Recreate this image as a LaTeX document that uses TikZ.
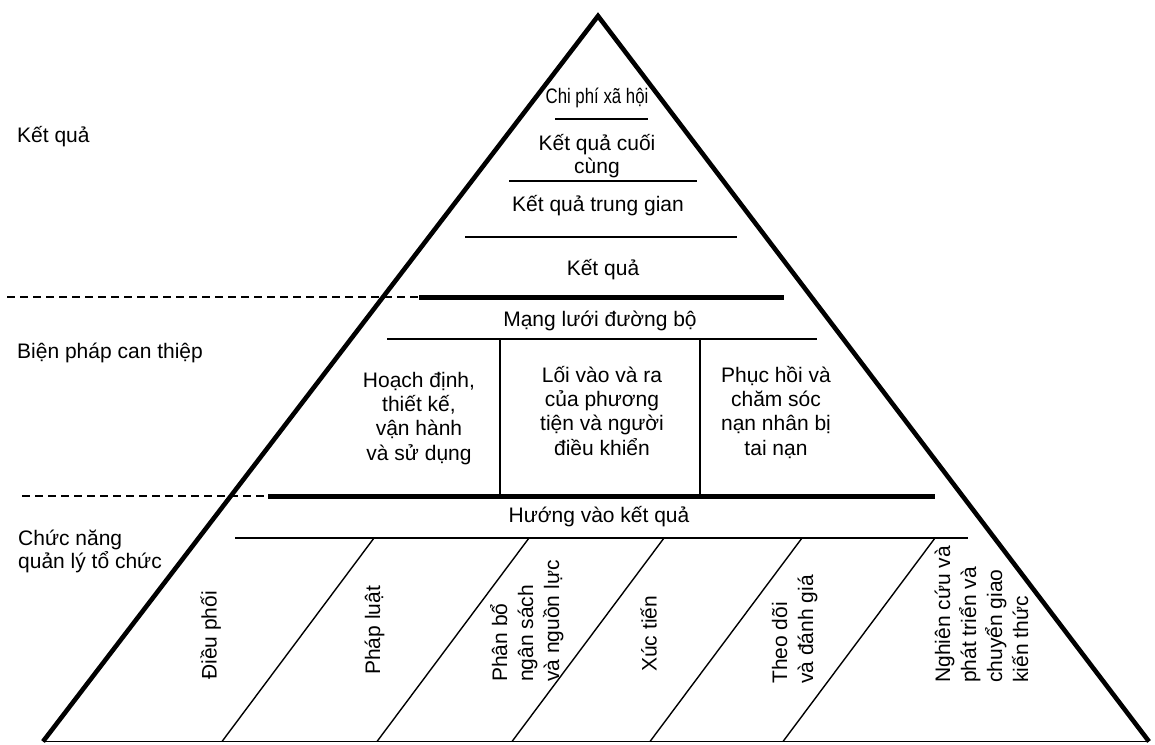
\documentclass[tikz,border=0pt]{standalone}
\usepackage{fontspec}
\setmainfont{Liberation Sans}
\newcommand\stk[2][c]{\begin{tabular}[t]{@{}#1@{}}#2\end{tabular}}
\begin{document}
\begin{tikzpicture}[x=1pt,y=-1pt,
  side/.style={line width=4.6pt,line join=miter},
  rule/.style={line width=1.4pt},
  bar/.style={line width=5pt},
  dashsep/.style={line width=1.3pt,dash pattern=on 8pt off 5pt},
  lbl/.style={font=\fontsize{21}{24.4}\selectfont,inner sep=0pt,anchor=base},
  llbl/.style={lbl,anchor=base west},
  vlbl/.style={font=\fontsize{21}{26}\selectfont,inner sep=0pt,rotate=90,anchor=base west},
]
\useasboundingbox (0,0) rectangle (1155,744);
% pyramid
\coordinate (apex) at (598,16);
\coordinate (bl) at (43,741.5);
\coordinate (br) at (1149,741.5);
\draw[side] (bl) -- (apex) -- (br);
\draw[rule] (bl) -- (br);
% upper levels
\draw[rule] (555,119) -- (648,119);
\draw[rule] (509,181) -- (697,181);
\draw[rule] (465,237) -- (737,237);
\draw[dashsep] (7,297) -- (419,297);
\draw[bar] (419,297) -- (784,297);
\draw[rule] (387,339) -- (817,339);
\draw[rule] (500,339) -- (500,496);
\draw[rule] (700,339) -- (700,496);
\draw[dashsep] (22,496) -- (268,496);
\draw[bar] (268,496) -- (935,496);
\draw[rule] (235,538) -- (968,538);
\foreach \t in {374,529,664,802,935}
  \draw[rule] (\t,538) -- ({\t-152},741.5);
% texts inside
\node[lbl] (cp) at (597,103) {\scalebox{0.8}[1]{Chi phí xã hội}};
\node[lbl] (kqcc) at (597,150.7) {\stk{Kết quả cuối\\[-1.8pt]cùng}};
\node[lbl] (kqtg) at (598,211) {Kết quả trung gian};
\node[lbl] (kq) at (603,275) {Kết quả};
\node[lbl] (ml) at (600,326) {Mạng lưới đường bộ};
\node[lbl] (hd) at (419,387) {\stk{Hoạch định,\\thiết kế,\\vận hành\\và sử dụng}};
\node[lbl] (lv) at (602,382) {\stk{Lối vào và ra\\của phương\\tiện và người\\điều khiển}};
\node[lbl] (ph) at (776,382) {\stk{Phục hồi và\\chăm sóc\\nạn nhân bị\\tai nạn}};
\node[lbl] (hv) at (599,522.7) {Hướng vào kết quả};
% rotated labels
\node[vlbl] (dp) at (216.5,680) {Điều phối};
\node[vlbl] (pl) at (380,675) {Pháp luật};
\node[vlbl] (pb) at (507,682) {\stk[l]{Phân bổ\\ngân sách\\và nguồn lực}};
\node[vlbl] (xt) at (656.5,672) {Xúc tiến};
\node[vlbl] (td) at (787,684) {\stk[l]{Theo dõi\\và đánh giá}};
\node[vlbl] (nc) at (950,683) {\stk[l]{Nghiên cứu và\\phát triển và\\chuyển giao\\kiến thức}};
% side labels
\node[llbl] (l1) at (17,142.7) {Kết quả};
\node[llbl] (l2) at (17,358.3) {Biện pháp can thiệp};
\node[llbl] (l3) at (18,545) {\stk[l]{Chức năng\\[-1.4pt]quản lý tổ chức}};
\end{tikzpicture}
\end{document}
